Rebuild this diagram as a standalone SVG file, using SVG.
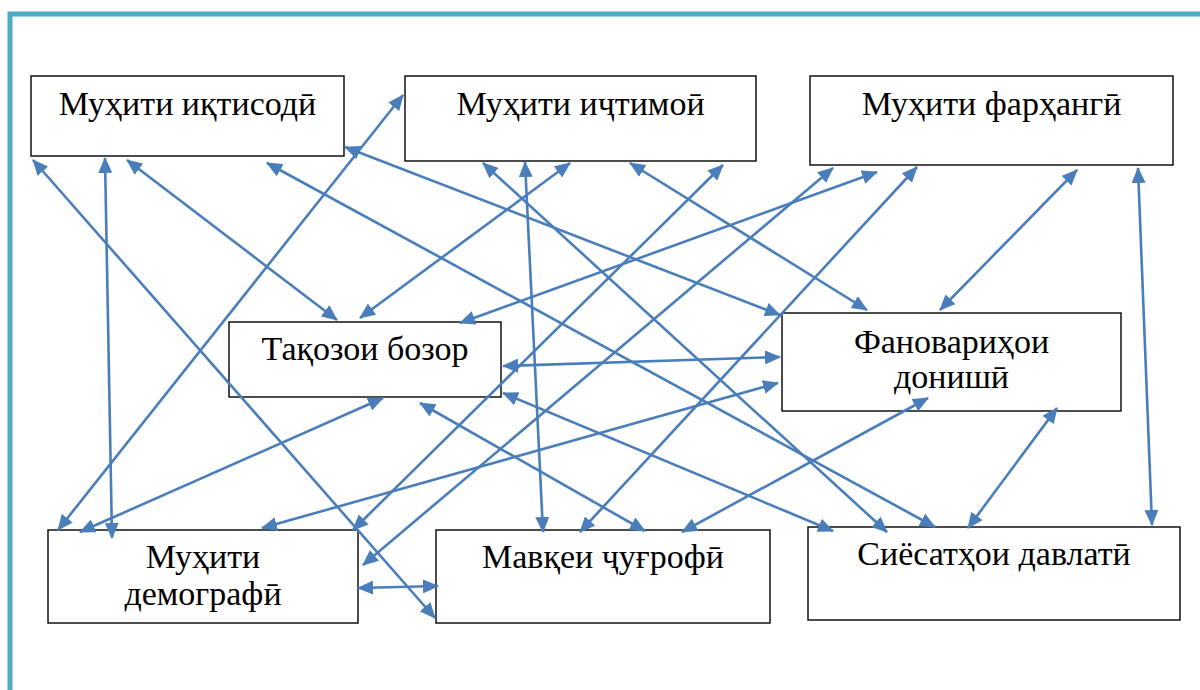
<svg xmlns="http://www.w3.org/2000/svg" width="1200" height="690" viewBox="0 0 1200 690">
<style>
.box{fill:#fff;stroke:#000;stroke-width:1.4}
.t{font-family:"Liberation Serif","Times New Roman",serif;font-size:34px;fill:#000;text-anchor:middle}
.c line{stroke:#4A7EBB;stroke-width:2.6;marker-start:url(#ah);marker-end:url(#ah)}
</style>
<defs>
<marker id="ah" markerUnits="userSpaceOnUse" markerWidth="16" markerHeight="14" refX="15" refY="7" orient="auto-start-reverse" viewBox="0 0 16 14">
<path d="M0,0 L16,7 L0,14 z" fill="#4A7EBB"/>
</marker>
</defs>
<rect width="1200" height="690" fill="#fff"/>
<path d="M10,690 V14 H1200" fill="none" stroke="#4BACC6" stroke-width="5"/>
<g id="n1"><rect class="box" x="31" y="76" width="313" height="80"/><text class="t" x="187.5" y="115">Муҳити иқтисодӣ</text></g>
<g id="n2"><rect class="box" x="405" y="76" width="351" height="85"/><text class="t" x="580.5" y="115">Муҳити иҷтимоӣ</text></g>
<g id="n3"><rect class="box" x="810" y="76" width="363" height="89"/><text class="t" x="991.5" y="115">Муҳити фарҳангӣ</text></g>
<g id="n4"><rect class="box" x="229" y="322" width="272" height="75"/><text class="t" x="365" y="360">Тақозои бозор</text></g>
<g id="n5"><rect class="box" x="782" y="313" width="339" height="98"/><text class="t" x="951.5" y="353">Фановариҳои</text><text class="t" x="951.5" y="388">донишӣ</text></g>
<g id="n6"><rect class="box" x="48" y="530" width="310" height="93"/><text class="t" x="203" y="568">Муҳити</text><text class="t" x="203" y="605">демографӣ</text></g>
<g id="n7"><rect class="box" x="436" y="530" width="334" height="93"/><text class="t" x="603" y="568">Мавқеи ҷуғрофӣ</text></g>
<g id="n8"><rect class="box" x="808" y="527" width="372" height="93"/><text class="t" x="994" y="565">Сиёсатҳои давлатӣ</text></g>
<g id="connectors" class="c">
<line x1="33" y1="160" x2="435" y2="618"/>
<line x1="105" y1="158" x2="112" y2="538"/>
<line x1="127" y1="160" x2="337" y2="320"/>
<line x1="267" y1="163" x2="935" y2="527"/>
<line x1="345" y1="147" x2="780" y2="315"/>
<line x1="403" y1="95" x2="58" y2="530"/>
<line x1="483" y1="163" x2="887" y2="532"/>
<line x1="525" y1="162" x2="543" y2="532"/>
<line x1="570" y1="163" x2="360" y2="318"/>
<line x1="630" y1="163" x2="867" y2="310"/>
<line x1="723" y1="165" x2="353" y2="530"/>
<line x1="833" y1="168" x2="363" y2="565"/>
<line x1="877" y1="172" x2="460" y2="323"/>
<line x1="917" y1="167" x2="580" y2="532"/>
<line x1="1077" y1="170" x2="940" y2="310"/>
<line x1="1138" y1="168" x2="1152" y2="525"/>
<line x1="503" y1="366" x2="780" y2="357"/>
<line x1="383" y1="398" x2="80" y2="532"/>
<line x1="420" y1="403" x2="645" y2="531"/>
<line x1="503" y1="393" x2="833" y2="531"/>
<line x1="778" y1="383" x2="262" y2="528"/>
<line x1="928" y1="398" x2="682" y2="532"/>
<line x1="1057" y1="408" x2="968" y2="528"/>
<line x1="358" y1="588" x2="438" y2="586"/>
</g>
</svg>
